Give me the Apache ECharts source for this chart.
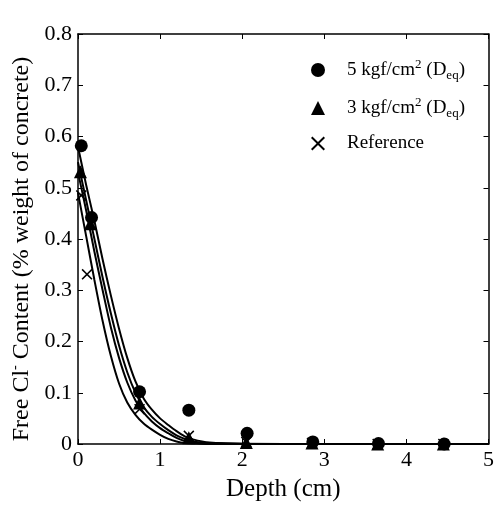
<!DOCTYPE html>
<html>
<head>
<meta charset="utf-8">
<script src="https://cdn.jsdelivr.net/npm/echarts@6/dist/echarts.min.js"></script>
<style>
  html, body { margin: 0; padding: 0; background: #fff; }
  #chart { width: 497px; height: 507px; }
</style>
</head>
<body>
<div id="chart"></div>
<script>
// Measured free chloride content vs. depth
const depth5 = [0.04, 0.165, 0.75, 1.35, 2.06, 2.86, 3.66, 4.46];
const cl5    = [0.582, 0.442, 0.102, 0.066, 0.021, 0.004, 0.001, 0.0];
const depth3 = [0.03, 0.15, 0.75, 1.35, 2.05, 2.85, 3.65, 4.45];
const cl3    = [0.531, 0.43, 0.08, 0.012, 0.003, 0.002, 0.0, 0.0];
const depthRef = [0.04, 0.11, 0.75, 1.35, 2.05, 2.85, 3.65, 4.45];
const clRef    = [0.485, 0.331, 0.068, 0.016, 0.004, 0.002, 0.0, 0.0];

// Fitted diffusion profiles, sampled on a shared depth grid
const fitDepth = [0, 0.1, 0.2, 0.3, 0.4, 0.5, 0.6, 0.7, 0.8, 0.9, 1.0, 1.1, 1.2, 1.3, 1.4, 1.6, 2, 3, 4, 5];
const fitA = [0.58, 0.505, 0.435, 0.36, 0.29, 0.225, 0.168, 0.122, 0.089, 0.067, 0.05, 0.037, 0.025, 0.015, 0.009, 0.003, 0.0005, 0, 0, 0];
const fitB = [0.55, 0.475, 0.40, 0.325, 0.255, 0.192, 0.14, 0.10, 0.072, 0.053, 0.039, 0.027, 0.017, 0.01, 0.005, 0.002, 0.0003, 0, 0, 0];
const fitC = [0.53, 0.455, 0.375, 0.30, 0.228, 0.168, 0.12, 0.085, 0.061, 0.044, 0.031, 0.021, 0.012, 0.006, 0.003, 0.001, 0, 0, 0, 0];
const fitD = [0.49, 0.405, 0.32, 0.24, 0.172, 0.118, 0.081, 0.057, 0.04, 0.028, 0.018, 0.01, 0.005, 0.002, 0.001, 0, 0, 0, 0, 0];

const xTicks = [0, 1, 2, 3, 4, 5];
const yTicks = [0, 0.1, 0.2, 0.3, 0.4, 0.5, 0.6, 0.7, 0.8];

const legend5 = '5 kgf/cm{sup|2} (D{sub|eq})';
const legend3 = '3 kgf/cm{sup|2} (D{sub|eq})';
const legendRef = 'Reference';

const FONT = '"Liberation Serif", "Times New Roman", serif';
const zip = (xs, ys) => xs.map((x, i) => [x, ys[i]]);
const crossPath = 'path://M0,1 L1,0 L5,4 L9,0 L10,1 L6,5 L10,9 L9,10 L5,6 L1,10 L0,9 L4,5 Z';

const chart = echarts.init(document.getElementById('chart'), null, { renderer: 'canvas' });

const fitLine = (data) => ({
  type: 'line', data: zip(fitDepth, data), showSymbol: false, symbol: 'none',
  smooth: 0.3, silent: true, z: 2,
  lineStyle: { color: '#000', width: 2, opacity: 1 }
});

const axisCommon = {
  min: 0, splitLine: { show: false },
  axisLine: { show: true, onZero: false, lineStyle: { color: '#000', width: 1.5 } },
  axisTick: { show: true, inside: true, length: 5, lineStyle: { color: '#000', width: 1 } }
};

chart.setOption({
  animation: false,
  backgroundColor: '#fff',
  grid: { left: 78, right: 6, top: 34, bottom: 59, containLabel: false },
  xAxis: [
    Object.assign({}, axisCommon, {
      type: 'value', max: 5, interval: 1, position: 'bottom',
      name: 'Depth (cm)', nameLocation: 'middle', nameGap: 33,
      nameTextStyle: { fontFamily: FONT, fontSize: 25, color: '#000' },
      axisLabel: { fontFamily: FONT, fontSize: 22, color: '#000', margin: 5,
        formatter: v => xTicks.includes(v) ? String(v) : '' }
    }),
    Object.assign({}, axisCommon, {
      type: 'value', max: 5, interval: 1, position: 'top', axisLabel: { show: false }
    })
  ],
  yAxis: [
    Object.assign({}, axisCommon, {
      type: 'value', max: 0.8, interval: 0.1, position: 'left',
      name: 'Free Cl{sup|-} Content (% weight of concrete)', nameLocation: 'middle', nameGap: 34,
      nameTextStyle: { fontFamily: FONT, fontSize: 24, color: '#000', padding: [0, 20, 0, 0],
        rich: { sup: { fontFamily: FONT, fontSize: 14, color: '#000', padding: [0, 0, 12, 0] } } },
      axisLabel: { fontFamily: FONT, fontSize: 22, color: '#000', margin: 6,
        formatter: v => { const t = yTicks.find(y => Math.abs(y - v) < 1e-6); return t === undefined ? '' : (t === 0 ? '0' : t.toFixed(1)); } }
    }),
    Object.assign({}, axisCommon, {
      type: 'value', max: 0.8, interval: 0.1, position: 'right', axisLabel: { show: false }
    })
  ],
  legend: {
    orient: 'vertical', left: 306, top: 53, itemGap: 14, itemWidth: 14, itemHeight: 14,
    selectedMode: false,
    data: [legend5, legend3, legendRef],
    textStyle: { fontFamily: FONT, fontSize: 19, color: '#000', padding: [0, 0, 0, 17],
      rich: {
        sup: { fontFamily: FONT, fontSize: 13, color: '#000', padding: [0, 0, 11, 0] },
        sub: { fontFamily: FONT, fontSize: 13, color: '#000', padding: [11, 0, 0, 0] }
      } }
  },
  series: [
    fitLine(fitA), fitLine(fitB), fitLine(fitC), fitLine(fitD),
    { name: legend5, type: 'scatter', data: zip(depth5, cl5), symbol: 'circle', symbolSize: 13,
      itemStyle: { color: '#000', opacity: 1 }, z: 5 },
    { name: legend3, type: 'scatter', data: zip(depth3, cl3), symbol: 'triangle', symbolSize: 13,
      itemStyle: { color: '#000', opacity: 1 }, z: 5 },
    { name: legendRef, type: 'scatter', data: zip(depthRef, clRef), symbol: crossPath, symbolSize: 11,
      itemStyle: { color: '#000', opacity: 1 }, z: 6 }
  ]
});
</script>
</body>
</html>
